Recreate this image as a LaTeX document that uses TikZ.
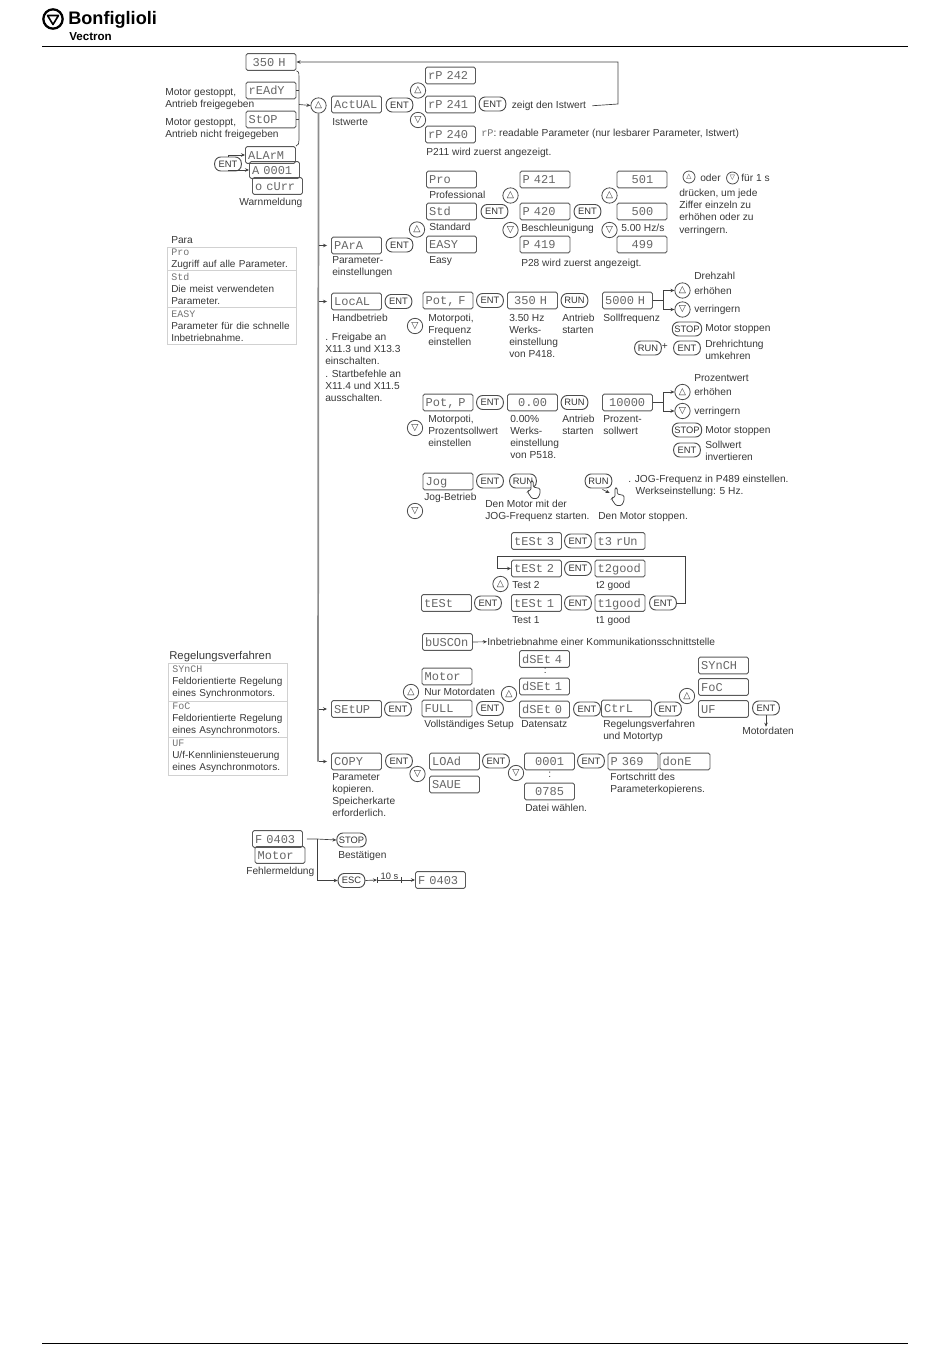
\documentclass[tikz,border=0pt]{standalone}
\usepackage{fontspec}
\setmainfont{Liberation Sans}
\newfontfamily\segfont{Liberation Mono}
\newfontfamily\symfont{DejaVu Sans}
\usetikzlibrary{arrows.meta}
\newcommand{\seg}[1]{{\segfont\color{black!55}#1}}
\tikzset{
  disp/.style={draw=black!65,line width=0.7pt,rounded corners=1.2pt,text=black!60,align=left,
    font=\segfont\fontsize{9}{9}\selectfont,text width=33.5pt,inner xsep=2pt,inner ysep=3pt,text height=6.6pt,text depth=0pt},
  btn/.style={draw=black!70,line width=0.7pt,rounded corners=4.6pt,text=black!80,minimum width=20pt,minimum height=10.5pt,
    inner xsep=1.5pt,inner ysep=0pt,font=\fontsize{7}{7}\selectfont},
  rnd/.style={circle,draw=black!70,line width=0.6pt,text=black!80,minimum size=11.5pt,inner sep=0pt,font=\symfont\fontsize{7}{7}\selectfont},
  lbl/.style={anchor=north west,align=left,inner sep=0pt,yshift=3.2pt,text=black!78,font=\fontsize{7.65}{9.2}\selectfont},
  cell/.style={anchor=north west,draw=black!18,align=left,inner xsep=3pt,inner ysep=0pt,text=black!78,font=\fontsize{7.5}{9}\selectfont},
  arr/.style={->,>={Stealth[length=3pt,width=2.6pt]},draw=black!75,line width=0.5pt},
  rule/.style={line width=0.6pt,black},
  trunk/.style={draw=black!45,line width=1.3pt},
  handicon/.pic={\draw[fill=white,draw=black!75,line width=0.55pt,rounded corners=0.9pt]
    (-3,0) -- (-3,-9) -- (-0.8,-9) -- (-0.8,-3) -- (6,-1.5) -- (6,4) -- (3.5,8.5) -- (-2,8.5) -- (-6.5,2) -- (-5.5,0.5) -- cycle;}
}
\begin{document}
\begin{tikzpicture}[x=0.75pt,y=-0.75pt]
\useasboundingbox (0,0) rectangle (950,1369);
% header and footer
\coordinate (topL) at (42,46); \coordinate (topR) at (908,46);
\coordinate (botL) at (42,1343); \coordinate (botR) at (908,1343);
\draw[rule] (topL) -- (topR);
\draw[rule] (botL) -- (botR);
\node[circle,draw,line width=1.7pt,minimum size=14.5pt,inner sep=0pt] (logo) at (53,19) {};
\draw[line width=1.2pt,line join=round] (47.5,15.5) -- (58.5,15.5) -- (53,24.5) -- cycle;
\node[anchor=west,inner sep=0pt,font=\bfseries\fontsize{13.6}{13.6}\selectfont] (brand) at (68,20) {Bonfiglioli};
\node[anchor=west,inner sep=0pt,font=\bfseries\fontsize{8.7}{8.7}\selectfont] (vectron) at (69,37) {Vectron};

% displays
\foreach \x/\y/\i/\t in {271/62/dIdle/~350~H,271/90.5/dReady/rEAdY,271/119.5/dStop/StOP,270.5/155/dAlarm/ALArM,
  274.5/170/dA1/A~0001,277.5/186/dCurr/o~cUrr,356.5/104.5/dActual/ActUAL,450.5/75.5/dP242/rP~242,450.5/104.5/dP241/rP~241,
  450.5/134.5/dP240/rP~240,451.5/179.5/dPro/Pro,451.5/211.5/dStd/Std,451.5/244.5/dEasy/EASY,545/179.5/dP421/P~421,
  545/211.5/dP420/P~420,545/244.5/dP419/P~419,642/179.5/dV501/~~~501,642/211.5/dV500/~~~500,642/244.5/dV499/~~~499,
  356.5/245.5/dPara/PArA,356.5/301.5/dLocal/LocAL,448/300.5/dPotF/{Pot,~F},532.5/300.5/dHz/~350~H,627.5/300.5/dSoll/5000~H,
  448/402.5/dPotP/{Pot,~P},532.5/402.5/dPct/~~0.00,627.5/402.5/dProz/~10000,448/481.5/dJog/Jog,536.5/541/dTest3/tESt~3,
  620/541/dRun3/t3~rUn,536.5/568.5/dTest2/tESt~2,620/568.5/dGood2/t2good,446.5/603/dTest/tESt,536.5/603/dTest1/tESt~1,
  620/603/dGood1/t1good,447.5/642/dBus/bUSCOn,356.5/709/dSetup/SEtUP,356.5/761.5/dCopy/COPY,447/676.5/dMotor/Motor,
  447/708.5/dFull/FULL,544.5/659/dSet4/dSEt~4,544.5/686.5/dSet1/dSEt~1,544.5/709.5/dSet0/dSEt~0,626.5/708.5/dCtrl/CtrL,
  723.5/665.5/dSynch/SYnCH,723.5/687/dFoc/FoC,723.5/709/dUf/UF,454.5/761.5/dLoad/LOAd,454.5/784.5/dSave/SAUE,
  549.5/761.5/dFile1/~~0001,549.5/791.5/dFile2/~~0785,633/761.5/dP369/P~369,685/761.5/dDone/donE,277.5/839/dFault/F~0403,
  280/855/dFaultM/Motor,440.5/880/dFaultB/F~0403}
  \node[disp] (\i) at (\x,\y) {\t};

% buttons
\foreach \x/\y/\i/\t in {228/164/bAlarm/ENT,399.5/105/bActual/ENT,492.5/104/bP241/ENT,399.5/245/bPara/ENT,494.5/211.5/bStd/ENT,
  587.5/211.5/bP420/ENT,398.5/301.5/bLocal/ENT,490/300.5/bPotF/ENT,574.5/300.5/rPotF/RUN,687/329/sF/STOP,648/348/rDir/RUN,
  687/348/bDir/ENT,490/402.5/bPotP/ENT,574.5/402.5/rPotP/RUN,687/430/sP/STOP,687/450/bInv/ENT,490/481/bJog/ENT,523/481/rJog/RUN,
  598.5/481/rStop/RUN,578/541/bTest3/ENT,578/568.5/bTest2/ENT,488/603/bTest/ENT,578/603/bTest1/ENT,663/603/bGood1/ENT,
  398/709/bSetup/ENT,490/708.5/bFull/ENT,587/709/bSet0/ENT,668/709/bCtrl/ENT,766/708/bUf/ENT,399/761/bCopy/ENT,496/761/bLoad/ENT,
  591/761/bFile/ENT,351.5/840/sFault/STOP,351.5/880.5/eFault/ESC}
  \node[btn] (\i) at (\x,\y) {\t};

% round keys
\foreach \x/\y/\i in {318.5/105.5/uMain,418/90.5/uActual,417/229.5/uPara,510.5/195.5/uStd,609.5/195.5/uP420,682.5/290.5/uSoll,
  682.5/392/uProz,500.5/584/uTest,411/692/uSetup,509/694/uFull,687/696/uCtrl}
  \node[rnd] (\i) at (\x,\y) {△};
\foreach \x/\y/\i in {418/120/nActual,510.5/230/nStd,609.5/230/nP420,415/326/nLocal,682.5/309.5/nSoll,415/428/nPotP,
  682.5/411/nProz,415/511/nJog,417.5/774/nCopy,516/773/nLoad}
  \node[rnd] (\i) at (\x,\y) {▽};
\node[rnd,minimum size=9pt,font=\symfont\fontsize{5}{5}\selectfont] (uHint) at (689,177) {△};
\node[rnd,minimum size=9pt,font=\symfont\fontsize{5}{5}\selectfont] (nHint) at (732.5,178) {▽};

% labels
\foreach \x/\y/\i/\t in {165/92/lStop1/{Motor gestoppt,\\Antrieb freigegeben},165/122/lStop2/{Motor gestoppt,\\Antrieb nicht freigegeben},
  239/202/lWarn/Warnmeldung,332/122/lActual/Istwerte,511.5/105/lShow/zeigt den Istwert,
  481/133/lRp/{\seg{rP}: readable Parameter (nur lesbarer Parameter, Istwert)},426/152/lP211/P211 wird zuerst angezeigt.,
  429/195/lPro/Professional,429/227/lStd/Standard,429/260/lEasy/Easy,521/228/lAcc/Beschleunigung,621/228/lAccV/{5.00 Hz/s},
  521/263/lP28/P28 wird zuerst angezeigt.,700/178/lOder/oder,741/178/lFuer/für 1 s,
  679/193/lHint/{drücken, um jede\\Ziffer einzeln zu\\erhöhen oder zu\\verringern.},
  332/260/lPara/{Parameter-\\einstellungen},332/318/lLocal/Handbetrieb,
  325/337/lFree/{. Freigabe an\\X11.3 und X13.3\\einschalten.\\. Startbefehle an\\X11.4 und X11.5\\ausschalten.},
  428/318/lPotF/{Motorpoti,\\Frequenz\\einstellen},509/318/lWerkF/{3.50 Hz\\Werks-\\einstellung\\von P418.},562/318/lStartF/{Antrieb\\starten},
  603/318/lSoll/Sollfrequenz,694/276/lDreh/Drehzahl,694/291/lUpF/erhöhen,694/309.5/lDnF/verringern,705/328/lStopF/Motor stoppen,
  705/344/lDir/{Drehrichtung\\umkehren},428/419/lPotP/{Motorpoti,\\Prozentsollwert\\einstellen},510/419/lWerkP/{0.00\%\\Werks-\\einstellung\\von P518.},
  562/419/lStartP/{Antrieb\\starten},603/419/lProz/{Prozent-\\sollwert},694/378/lPct/Prozentwert,694/392/lUpP/erhöhen,694/411/lDnP/verringern,
  705/430/lStopP/Motor stoppen,705/445/lInv/{Sollwert\\invertieren},424/497/lJog/Jog-Betrieb,485/504/lJogS/{Den Motor mit der\\JOG-Frequenz starten.},
  598/516/lJogE/Den Motor stoppen.,628/479/lJogH/{. JOG-Frequenz in P489 einstellen.\\\hspace*{5.5pt}Werkseinstellung: 5 Hz.},
  512/585/lT2/Test 2,596/585/lG2/t2 good,512/620/lT1/Test 1,596/620/lG1/t1 good,487/642/lBus/Inbetriebnahme einer Kommunikationsschnittstelle,
  424/692/lMot/Nur Motordaten,424/724/lFull/Vollständiges Setup,521/724/lSet/Datensatz,603/724/lCtrl/{Regelungsverfahren\\und Motortyp},
  742/731/lMotD/Motordaten,332/777/lCopy/{Parameter\\kopieren.\\Speicherkarte\\erforderlich.},525/808/lFile/Datei wählen.,
  610/777/lProg/{Fortschritt des\\Parameterkopierens.},338/855/lAck/Bestätigen,246/871/lFault/Fehlermeldung,
  171/240/lParaT/Para,543.5/672/lDots1/:,548/776/lDots2/:}
  \node[lbl] (\i) at (\x,\y) {\t};
\node[lbl,font=\fontsize{8.5}{9}\selectfont] (lRegT) at (169,655) {Regelungsverfahren};
\node[lbl] (lPlus) at (661.5,348) {+};

% side tables
\foreach \y/\h/\i/\t in {247/23/cPro/{\seg{Pro}\\Zugriff auf alle Parameter.},270/37/cStd/{\seg{Std}\\Die meist verwendeten\\Parameter.},
  307/37/cEasy/{\seg{EASY}\\Parameter für die schnelle\\Inbetriebnahme.}}
  \node[cell,text width=91pt,minimum height=\h*0.75pt] (\i) at (167,\y) {\t};
\foreach \y/\h/\i/\t in {663/38/cSynch/{\seg{SYnCH}\\Feldorientierte Regelung\\eines Synchronmotors.},701/36/cFoc/{\seg{FoC}\\Feldorientierte Regelung\\eines Asynchronmotors.},
  737/38/cUf/{\seg{UF}\\U/f-Kennliniensteuerung\\eines Asynchronmotors.}}
  \node[cell,text width=83pt,minimum height=\h*0.75pt] (\i) at (168,\y) {\t};

% connectors
\coordinate (trunkEnd) at (318,761.5);
\draw[trunk] (uMain) -- (trunkEnd);
\foreach \n in {dPara,dLocal,dSetup,dCopy}
  \draw[arr,shorten >=3pt] (uMain |- \n.west) -- (\n.west);
\coordinate (braceTop) at (299,78); \coordinate (braceBot) at (299,140); \coordinate (braceMid) at (299,104.5);
\draw[draw=black!75,line width=0.5pt] (dIdle.south east) to[out=-10,in=90] (braceTop) -- (braceBot) to[out=-90,in=10] (dAlarm.north east);
\draw[draw=black!75,line width=0.5pt] (dReady.east) -- (dReady.east -| braceMid);
\draw[draw=black!75,line width=0.5pt] (dStop.east) -- (dStop.east -| braceMid);
\draw[arr] (braceMid) -- (uMain.west);
\draw[arr] (bAlarm.north) |- (dAlarm.west);
\draw[arr] (bAlarm.south) |- (dA1.west);
\coordinate (backR) at (618,104);
\draw[arr] (lShow.east) ++(6,0) -- (backR) |- (dIdle.east);
\coordinate (forkF) at (663,300.5); \coordinate (forkP) at (663,402.5);
\draw[arr] (dSoll.east) -- (forkF) |- (uSoll.west);
\draw[arr] (forkF) |- (nSoll.west);
\draw[arr] (dProz.east) -- (forkP) |- (uProz.west);
\draw[arr] (forkP) |- (nProz.west);
\coordinate (loopR) at (685,603); \coordinate (loopT) at (685,556); \coordinate (loopL) at (497.5,556);
\draw[arr] (bGood1.east) -- (loopR) -- (loopT) -- (loopL) |- (dTest2.west);
\draw[arr] (dBus.east) -- (lBus.west);
\draw[arr] (bUf.south) -- (bUf.south |- lMotD.north);
\coordinate (hJog) at (534,490); \coordinate (hStop) at (618,497);
\draw[arr,shorten >=7pt] (rStop.south) ++(4,1) -- (hStop);
\pic at (hJog) {handicon};
\pic at (hStop) {handicon};
\coordinate (forkE) at (317,839);
\draw[arr,shorten <=3pt] (dFault.east) -- (forkE) -- (sFault.west);
\draw[arr] (forkE) |- (eFault.west);
\coordinate (tenA) at (377,880); \coordinate (tenB) at (402,880);
\draw[arr] (eFault.east) -- (tenA);
\draw[draw=black!75,line width=0.5pt,{Bar[width=4pt]}-{Bar[width=4pt]}] (tenA) -- node[above=-0.5pt,inner sep=0.5pt,text=black!78,font=\fontsize{7}{7}\selectfont] (lTen) {10 s} (tenB);
\draw[arr] (tenB) -- (dFaultB.west);
\end{tikzpicture}
\end{document}
